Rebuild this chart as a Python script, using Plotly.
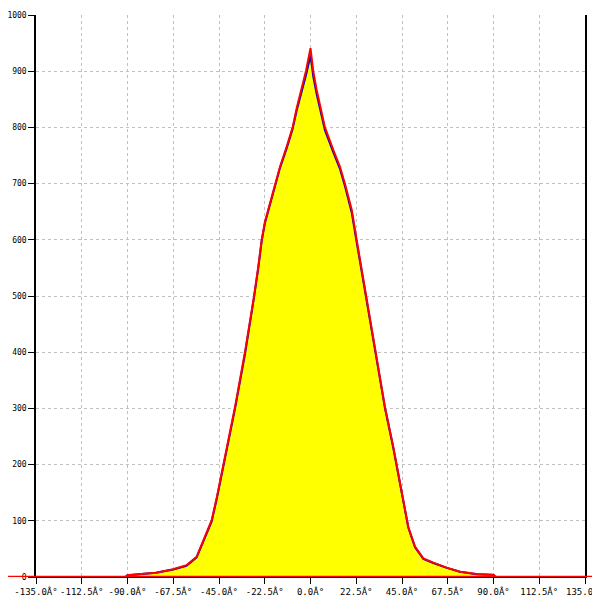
import plotly.graph_objects as go

angles = [-135, -91, -90, -84, -76, -67.5, -61, -56, -52, -48.6, -46, -43.7, -41.2,
          -37.1, -32.2, -29, -27.8, -25.7, -24, -22.4, -19.9, -17.5, -15, -11.7, -8.8,
          -6.8, -4.3, -2.2, 0, 1.4, 3, 7.1, 11.2, 14.5, 17, 20.3, 22.7, 25.2, 27.3, 29,
          31.7, 36.6, 40.7, 43.2, 45.6, 48.1, 51.4, 55.5, 60.4, 67, 73.5, 81.7, 90, 91, 135]

red_counts = [0, 0, 3, 5.3, 7.7, 13.7, 21, 36, 70, 101, 143, 184, 232,
              303, 401, 469, 499, 552, 600, 632, 665, 699, 730, 766, 800,
              834, 868, 901, 941, 899, 867, 800, 760, 730, 699, 653, 600, 546, 499, 460,
              401, 303, 232, 184, 137, 89, 54, 33, 25.5, 16.6, 9.5, 5.3, 4, 0, 0]

blue_counts = [0, 0, 3, 5.0, 7.5, 13.2, 20, 35, 68, 99, 141, 181, 228,
               300, 397, 466, 497, 549, 598, 630, 662, 697, 728, 763, 797,
               830, 862, 893, 928, 890, 860, 795, 756, 726, 695, 648, 596, 543, 497, 458,
               399, 301, 230, 182, 135, 88, 53, 32, 25, 16.2, 9.2, 5.1, 3.8, 0, 0]

x_ticks = [-135, -112.5, -90, -67.5, -45, -22.5, 0, 22.5, 45, 67.5, 90, 112.5, 135]
x_tick_labels = ["-135.0Â°", "-112.5Â°", "-90.0Â°", "-67.5Â°", "-45.0Â°", "-22.5Â°",
                 "0.0Â°", "22.5Â°", "45.0Â°", "67.5Â°", "90.0Â°", "112.5Â°", "135.0Â°"]
y_ticks = [0, 100, 200, 300, 400, 500, 600, 700, 800, 900, 1000]

fig = go.Figure()
fig.add_trace(go.Scatter(x=angles, y=blue_counts, mode="lines",
                         line=dict(color="#0000cc", width=2),
                         fill="tozeroy", fillcolor="#ffff00"))
fig.add_trace(go.Scatter(x=angles, y=red_counts, mode="lines",
                         line=dict(color="#ff0000", width=2)))

xfont = dict(family="DejaVu Sans Mono", size=9, color="#000000")
yfont = dict(family="DejaVu Sans Mono", size=8, color="#000000")
grid = dict(showgrid=True, gridcolor="#c0c0c0", gridwidth=1, griddash="3px,3px")

fig.update_xaxes(range=[-135, 135], tickmode="array", tickvals=x_ticks,
                 ticktext=x_tick_labels, ticks="outside", ticklen=6, tickcolor="#000",
                 showline=True, linecolor="#000", linewidth=1, zeroline=False,
                 tickangle=0, automargin=False, ticklabeloverflow="allow",
                 tickfont=xfont, **grid)
fig.update_yaxes(range=[0, 1000], tickmode="array", tickvals=y_ticks,
                 ticks="outside", ticklen=6, tickcolor="#000",
                 showline=True, linecolor="#000", linewidth=1.5, mirror=True,
                 zeroline=False, automargin=False, ticklabeloverflow="allow",
                 tickfont=yfont, **grid)

# red baseline extending past the plot edges
fig.add_shape(type="line", xref="paper", yref="y", x0=-28 / 549, x1=1 + 15 / 549,
              y0=0, y1=0, line=dict(color="#ff0000", width=2.5), layer="above")

fig.update_layout(width=592, height=592, showlegend=False,
                  paper_bgcolor="#ffffff", plot_bgcolor="#ffffff",
                  margin=dict(l=28, r=15, t=7, b=23, autoexpand=False))

fig.write_html("out.html")
